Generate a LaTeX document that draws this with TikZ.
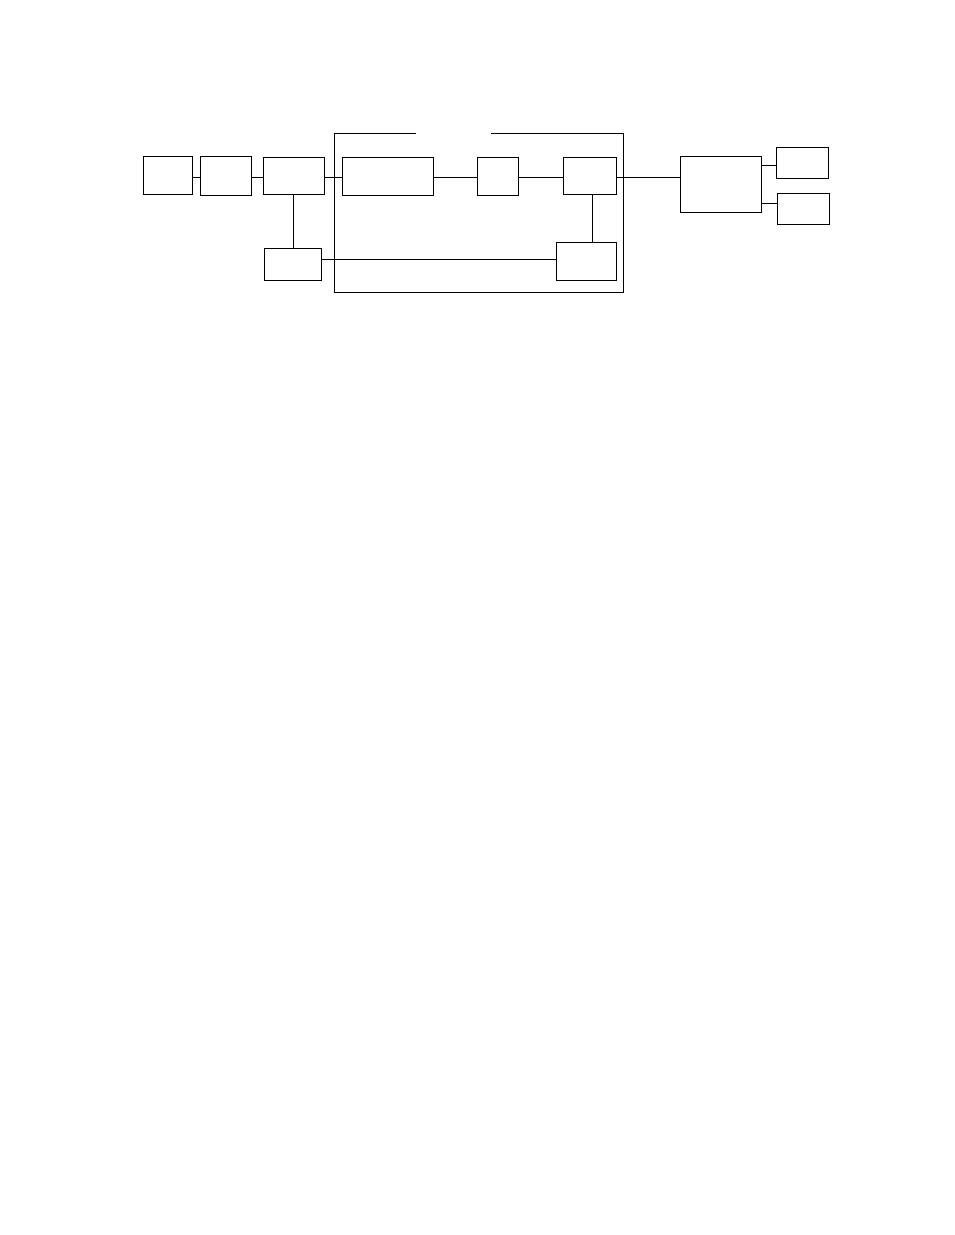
\documentclass[tikz,border=0pt]{standalone}
\begin{document}
\begin{tikzpicture}[x=1pt,y=-1pt,
  blk/.style={draw,rectangle,inner sep=0pt,line width=0.9pt},
  wire/.style={line width=0.9pt}]
\useasboundingbox[fill=white] (0,0) rectangle (954,1235);
% boxes
\node[blk,minimum width=49.4pt,minimum height=38pt] (A) at (168,175.3) {};
\node[blk,minimum width=51.4pt,minimum height=39pt] (B) at (226,175.8) {};
\node[blk,minimum width=61.4pt,minimum height=36.7pt] (C) at (294,175.7) {};
\node[blk,minimum width=57.4pt,minimum height=32pt] (D) at (293,264.3) {};
\node[blk,minimum width=91pt,minimum height=38pt] (E) at (387.8,176.3) {};
\node[blk,minimum width=41pt,minimum height=38pt] (F) at (497.8,176.3) {};
\node[blk,minimum width=53pt,minimum height=36.7pt] (G) at (589.8,175.7) {};
\node[blk,minimum width=60pt,minimum height=38pt] (H) at (586.3,261.3) {};
\node[blk,minimum width=81pt,minimum height=56pt] (I) at (720.8,184.3) {};
\node[blk,minimum width=52pt,minimum height=31pt] (J) at (802.3,162.8) {};
\node[blk,minimum width=52pt,minimum height=31pt] (K) at (803.3,208.8) {};
% helper coordinates
\coordinate (row) at (0,177.3);
\coordinate (cdx) at (293.3,0);
\coordinate (ghx) at (592.3,0);
\coordinate (dh) at (0,259.3);
\coordinate (ij) at (0,165);
\coordinate (ik) at (0,203.3);
% frame
\coordinate (f1) at (416,133.3);
\coordinate (f2) at (491,133.3);
\coordinate (ftl) at (334.3,133.3);
\coordinate (ftr) at (623.3,133.3);
\coordinate (fbr) at (623.3,292.3);
\coordinate (fbl) at (334.3,292.3);
\draw[wire] (f1) -- (ftl) -- (fbl) -- (fbr) -- (ftr) -- (f2);
% connectors
\draw[wire] (A.east |- row) -- (B.west |- row);
\draw[wire] (B.east |- row) -- (C.west |- row);
\draw[wire] (C.east |- row) -- (E.west |- row);
\draw[wire] (E.east |- row) -- (F.west |- row);
\draw[wire] (F.east |- row) -- (G.west |- row);
\draw[wire] (G.east |- row) -- (I.west |- row);
\draw[wire] (cdx |- C.south) -- (cdx |- D.north);
\draw[wire] (ghx |- G.south) -- (ghx |- H.north);
\draw[wire] (D.east |- dh) -- (H.west |- dh);
\draw[wire] (I.east |- ij) -- (J.west |- ij);
\draw[wire] (I.east |- ik) -- (K.west |- ik);
\end{tikzpicture}
\end{document}
